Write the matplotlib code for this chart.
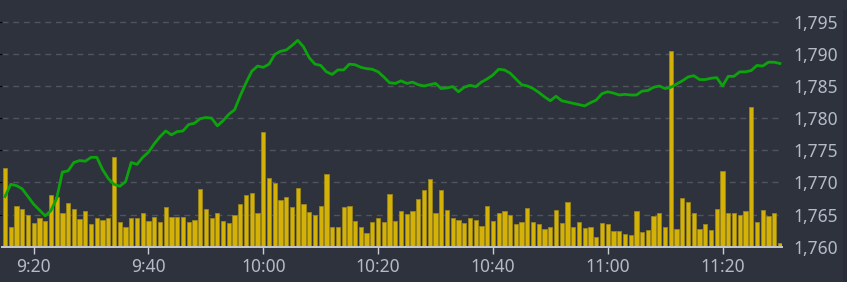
import numpy as np
import pandas as pd
import matplotlib
matplotlib.use("Agg")
import matplotlib.pyplot as plt
from matplotlib.ticker import FuncFormatter
from matplotlib.patches import Rectangle

# ---- data ----
start_time = "09:15"
price = [
    1767.8, 1769.7, 1769.5, 1769.0, 1767.8, 1766.6, 1765.7, 1764.8, 1765.6, 1767.5,
    1771.6, 1771.8, 1773.1, 1773.4, 1773.3, 1773.9, 1773.9, 1772.0, 1770.6, 1769.7,
    1769.4, 1770.1, 1773.1, 1772.8, 1773.9, 1774.7, 1776.0, 1777.1, 1778.0, 1777.4,
    1777.9, 1778.0, 1779.0, 1779.2, 1779.9, 1780.1, 1780.0, 1778.8, 1779.6, 1780.6,
    1781.3, 1783.5, 1785.5, 1787.3, 1788.1, 1787.9, 1788.4, 1789.9, 1790.4, 1790.6,
    1791.3, 1792.1, 1791.1, 1789.4, 1788.4, 1788.2, 1787.2, 1786.8, 1787.5, 1787.5,
    1788.4, 1788.3, 1787.9, 1787.7, 1787.6, 1787.2, 1786.4, 1785.5, 1785.4, 1785.8,
    1785.4, 1785.6, 1785.2, 1785.0, 1785.2, 1785.4, 1784.6, 1784.7, 1784.9, 1784.1,
    1784.8, 1785.1, 1784.9, 1785.6, 1786.1, 1786.7, 1787.6, 1787.5, 1787.0, 1786.1,
    1785.2, 1785.0, 1784.6, 1784.0, 1783.3, 1782.7, 1783.4, 1782.7, 1782.5, 1782.3,
    1782.1, 1781.9, 1782.4, 1782.8, 1783.8, 1784.1, 1783.9, 1783.6, 1783.7, 1783.6,
    1783.6, 1784.2, 1784.3, 1784.8, 1785.0, 1784.6, 1784.8, 1785.3, 1785.8, 1786.4,
    1786.6, 1786.0, 1786.0, 1786.2, 1786.3, 1785.0, 1786.5, 1786.5, 1787.2, 1787.2,
    1787.4, 1788.2, 1788.1, 1788.7, 1788.7, 1788.5,
]
volume = [
    1230, 300, 630, 580, 490, 370, 440, 400, 800, 770,
    520, 680, 590, 430, 550, 360, 450, 410, 450, 1390,
    380, 300, 450, 450, 530, 400, 460, 380, 610, 460,
    460, 460, 390, 410, 900, 580, 450, 520, 400, 370,
    490, 670, 810, 840, 520, 1780, 1070, 990, 720, 770,
    620, 910, 670, 540, 500, 640, 1130, 300, 310, 620,
    640, 400, 300, 220, 380, 440, 390, 820, 400, 560,
    510, 550, 740, 880, 1050, 530, 880, 570, 450, 420,
    370, 440, 420, 320, 640, 400, 520, 560, 490, 350,
    390, 600, 390, 350, 270, 300, 570, 370, 690, 310,
    380, 290, 300, 150, 370, 350, 240, 240, 200, 180,
    560, 230, 260, 480, 520, 310, 3050, 280, 760, 690,
    520, 280, 360, 260, 580, 1170, 520, 520, 490, 550,
    2170, 380, 570, 470, 530, 50,
]
tick_labels = ["9:20", "9:40", "10:00", "10:20", "10:40", "11:00", "11:20"]
price_ticks = [1760, 1765, 1770, 1775, 1780, 1785, 1790, 1795]

# ---- styling ----
BG = "#2e323d"
TXT = "#b6bac6"
GRID = "#50545f"
LINE = "#0ca30c"
BAR = "#d4b106"
BAR_EDGE = "#9a861c"

W, H, DPI = 847, 282, 100
fig = plt.figure(figsize=(W / DPI, H / DPI), dpi=DPI, facecolor=BG)

times = pd.date_range(start_time, periods=len(price), freq="min")
labels_all = [f"{t.hour}:{t.minute:02d}" for t in times]
x = np.arange(len(price))
tick_pos = [labels_all.index(l) for l in tick_labels]

left_px, right_px = 2.4, 782.2
bottom_px, top_px = 246.7, 5.0
ax_vol = fig.add_axes([left_px / W, 1 - bottom_px / H,
                       (right_px - left_px) / W, (bottom_px - top_px) / H])
ax_vol.set_facecolor(BG)

ymin, ymax = 1760, 1795 + (21.7 - top_px) / 6.43
vol_scale = 100.0  # volume units per price unit in pixel space
ax_vol.set_ylim(0, (ymax - ymin) * vol_scale)
ax_vol.bar(x, volume, width=0.74, color=BAR, edgecolor=BAR_EDGE, linewidth=0.6, zorder=3)
ax_vol.set_yticks([(p - ymin) * vol_scale for p in price_ticks[1:]])
ax_vol.yaxis.grid(True, color=GRID, linestyle=(0, (4.3, 3.4)), linewidth=1.0, zorder=0)
ax_vol.set_axisbelow(True)
ax_vol.tick_params(axis="y", left=False, labelleft=False, right=False, labelright=False)
ax_vol.set_xlim(-0.45, len(price) - 0.6)
ax_vol.set_xticks(tick_pos)
ax_vol.set_xticklabels(tick_labels)
ax_vol.tick_params(axis="x", colors="#c8ccd4", labelcolor=TXT, length=5, width=1.0,
                   pad=3, labelsize=12.5)
for lab in ax_vol.get_xticklabels():
    lab.set_fontfamily("Noto Sans")
for s in ["top", "left", "right"]:
    ax_vol.spines[s].set_visible(False)
ax_vol.spines["bottom"].set_color("#c4c8d0")
ax_vol.spines["bottom"].set_linewidth(1.4)
ax_vol.spines["bottom"].set_zorder(5)

ax_p = ax_vol.twinx()
ax_p.set_ylim(ymin, ymax)
ax_p.plot(x, price, color=LINE, linewidth=2.0, solid_joinstyle="round", zorder=4)
ax_p.set_yticks(price_ticks)
ax_p.yaxis.set_major_formatter(FuncFormatter(lambda v, p: f"{int(v):,}"))
ax_p.tick_params(axis="y", length=0, pad=8, labelcolor=TXT, labelsize=12.5)
for lab in ax_p.get_yticklabels():
    lab.set_fontfamily("Noto Sans")
for s in ax_p.spines.values():
    s.set_visible(False)

fig.patches.append(Rectangle((843 / W, 0), 4 / W, 1 - 10 / H, transform=fig.transFigure,
                             facecolor="#2a2d37", edgecolor="none", zorder=0))

fig.savefig("out.png", dpi=DPI, facecolor=BG)
